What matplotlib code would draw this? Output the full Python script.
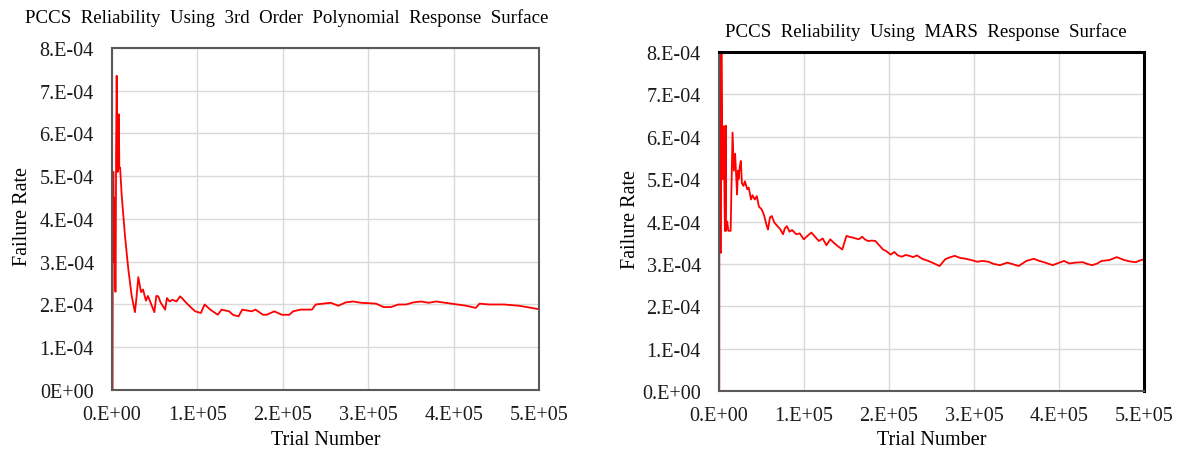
import matplotlib
matplotlib.use("Agg")
import matplotlib.pyplot as plt
import numpy as np

plt.rcParams['font.family'] = ['Liberation Serif', 'DejaVu Serif']

# running failure rate, 3rd order polynomial response surface
poly_trials = [0, 700, 1000, 1800, 2200, 2600, 3200, 3800, 4300, 4800, 5500, 6200, 6700,
               7300, 8000, 8600, 9500, 11400, 15200, 19100, 23000, 26900, 28900, 30800,
               34000, 36300, 39800, 42100, 49600, 51900, 54230, 56880, 62170, 64370,
               67460, 70980, 75390, 79800, 82000, 86420, 93030, 97440, 104050, 108460,
               115070, 123890, 128300, 137120, 141530, 148140, 152550, 163570, 167980,
               176800, 181210, 190030, 198850, 207660, 212070, 220890, 234120, 238530,
               247350, 256160, 264980, 273800, 282620, 291440, 309080, 317900, 326710,
               335530, 344350, 353170, 361990, 370810, 379630, 397270, 414900, 425920,
               430330, 441350, 458990, 476630, 485450, 500000]
poly_rate = [0, 0, 5.1, 5.1, 3.0, 4.5, 3.6, 2.3, 2.3, 5.6, 7.35, 5.8, 5.1,
             6.0, 6.45, 5.2, 5.2, 4.55, 3.61, 2.83, 2.21, 1.82, 2.21, 2.64,
             2.29, 2.35, 2.09, 2.2, 1.82, 2.2, 2.19, 2.05, 1.88, 2.15,
             2.07, 2.11, 2.07, 2.19, 2.15, 2.05, 1.92, 1.84, 1.80, 2.00,
             1.88, 1.76, 1.88, 1.84, 1.76, 1.72, 1.88, 1.84, 1.88,
             1.76, 1.76, 1.84, 1.76, 1.76, 1.84, 1.88, 1.88, 2.00,
             2.02, 2.04, 1.97, 2.05, 2.07, 2.04, 2.02, 1.94, 1.94,
             2.00, 2.00, 2.05, 2.07, 2.04, 2.07, 2.02, 1.97, 1.92,
             2.02, 2.00, 2.00, 1.97, 1.94, 1.89]

# running failure rate, MARS response surface
mars_trials = [0, 300, 500, 1200, 1500, 2200, 2800, 3550, 4200, 5000, 5770, 6500, 7000,
               7600, 8200, 8300, 9700, 11000, 13700, 15970, 17500, 19000, 20200, 21290,
               22300, 23000, 24500, 25730, 27000, 28830, 30500, 33270, 35000, 37710,
               39500, 42150, 44500, 47000, 50130, 53000, 55500, 57670, 60000, 62100,
               65000, 68760, 72000, 75410, 77500, 79850, 83000, 86000, 90940, 95000,
               99810, 104000, 108680, 113000, 117550, 122000, 126430, 130860, 135000,
               139730, 145060, 149940, 153000, 157480, 161000, 164130, 168570, 171500,
               175220, 180000, 184090, 188000, 192970, 197000, 201840, 206270, 210500,
               215150, 219500, 224020, 228500, 232890, 239000, 246200, 252000, 259510,
               266160, 271000, 277250, 284000, 290560, 297000, 303870, 310000, 317170,
               323000, 330480, 339350, 346000, 352660, 361530, 370410, 377000, 383710,
               392590, 399000, 405890, 412000, 419200, 428070, 433000, 439160, 445000,
               450250, 459130, 468000, 476870, 483000, 490180, 495000, 500000]
mars_rate = [0, 0, 12.0, 9.0, 3.3, 3.26, 8.5, 6.73, 5.0, 6.2, 6.25, 4.5, 3.78,
             5.0, 6.26, 3.78, 4.0, 3.78, 3.78, 6.10, 5.2, 5.6, 5.1, 4.64,
             5.2, 5.0, 5.3, 5.43, 4.9, 4.84, 4.95, 4.76, 4.8, 4.52,
             4.62, 4.52, 4.6, 4.35, 4.29, 4.15, 3.95, 3.81, 4.1, 4.13,
             3.98, 3.89, 3.82, 3.70, 3.84, 3.89, 3.76, 3.80, 3.70, 3.72,
             3.58, 3.66, 3.74, 3.64, 3.54, 3.60, 3.44, 3.58, 3.50,
             3.42, 3.34, 3.66, 3.64, 3.62, 3.60, 3.58, 3.64, 3.58,
             3.54, 3.55, 3.54, 3.45, 3.34, 3.30, 3.22, 3.28, 3.20,
             3.17, 3.21, 3.19, 3.16, 3.20, 3.12, 3.07, 3.02, 2.95,
             3.11, 3.15, 3.19, 3.14, 3.12, 3.09, 3.05, 3.07, 3.05,
             3.00, 2.97, 3.03, 2.99, 2.95, 3.07, 3.12, 3.07, 3.03,
             2.97, 3.02, 3.07, 3.01, 3.03, 3.04, 3.00, 2.97, 3.01,
             3.07, 3.09, 3.16, 3.09, 3.06, 3.04, 3.08, 3.11]

y_ticks = [0, 1e-4, 2e-4, 3e-4, 4e-4, 5e-4, 6e-4, 7e-4, 8e-4]
y_labels_left = ["0E+00", "1.E-04", "2.E-04", "3.E-04", "4.E-04", "5.E-04", "6.E-04", "7.E-04", "8.E-04"]
y_labels_right = ["0.E+00", "1.E-04", "2.E-04", "3.E-04", "4.E-04", "5.E-04", "6.E-04", "7.E-04", "8.E-04"]
x_ticks = [0, 1e5, 2e5, 3e5, 4e5, 5e5]
x_labels = ["0.E+00", "1.E+05", "2.E+05", "3.E+05", "4.E+05", "5.E+05"]


def setup(ax, ylabels, ylab_x, xlab_y):
    ax.set_xlim(0, 5e5)
    ax.set_ylim(0, 8e-4)
    ax.set_xticks(x_ticks)
    ax.set_xticklabels(x_labels, fontsize=14.5)
    ax.set_yticks(y_ticks)
    ax.set_yticklabels(ylabels, fontsize=14.5)
    ax.tick_params(axis='x', length=0, pad=11, colors='#1a1a1a')
    ax.tick_params(axis='y', length=0, pad=13, colors='#1a1a1a')
    ax.grid(True, color='#d9d9d9', lw=1)
    ax.set_axisbelow(True)
    for s in ax.spines.values():
        s.set_color('#595959')
        s.set_linewidth(1.5)
    ax.set_xlabel("Trial Number", fontsize=14.5, va='center')
    ax.xaxis.set_label_coords(0.5, xlab_y)
    ax.set_ylabel("Failure Rate", fontsize=14.5, va='center')
    ax.yaxis.set_label_coords(ylab_x, 0.51)


fig = plt.figure(figsize=(11.8, 4.52), dpi=100)

ax1 = fig.add_axes([0.0949, 0.135, 0.3619, 0.7566])
ax1.plot(poly_trials, np.array(poly_rate) * 1e-4, c='red', lw=1.3)
setup(ax1, y_labels_left, -0.21, -0.144)
fig.text(0.243, 0.96, "PCCS  Reliability  Using  3rd  Order  Polynomial  Response  Surface",
         ha='center', va='center', fontsize=13.6)

ax2 = fig.add_axes([0.6093, 0.1327, 0.3602, 0.75])
ax2.plot(mars_trials, np.array(mars_rate) * 1e-4, c='red', lw=1.3)
setup(ax2, y_labels_right, -0.209, -0.142)
ax2.spines['top'].set_color('black')
ax2.spines['top'].set_linewidth(2.2)
ax2.spines['right'].set_color('black')
ax2.spines['right'].set_linewidth(2.2)
fig.text(0.785, 0.93, "PCCS  Reliability  Using  MARS  Response  Surface",
         ha='center', va='center', fontsize=13.6)

plt.savefig("out.png", dpi=100)
